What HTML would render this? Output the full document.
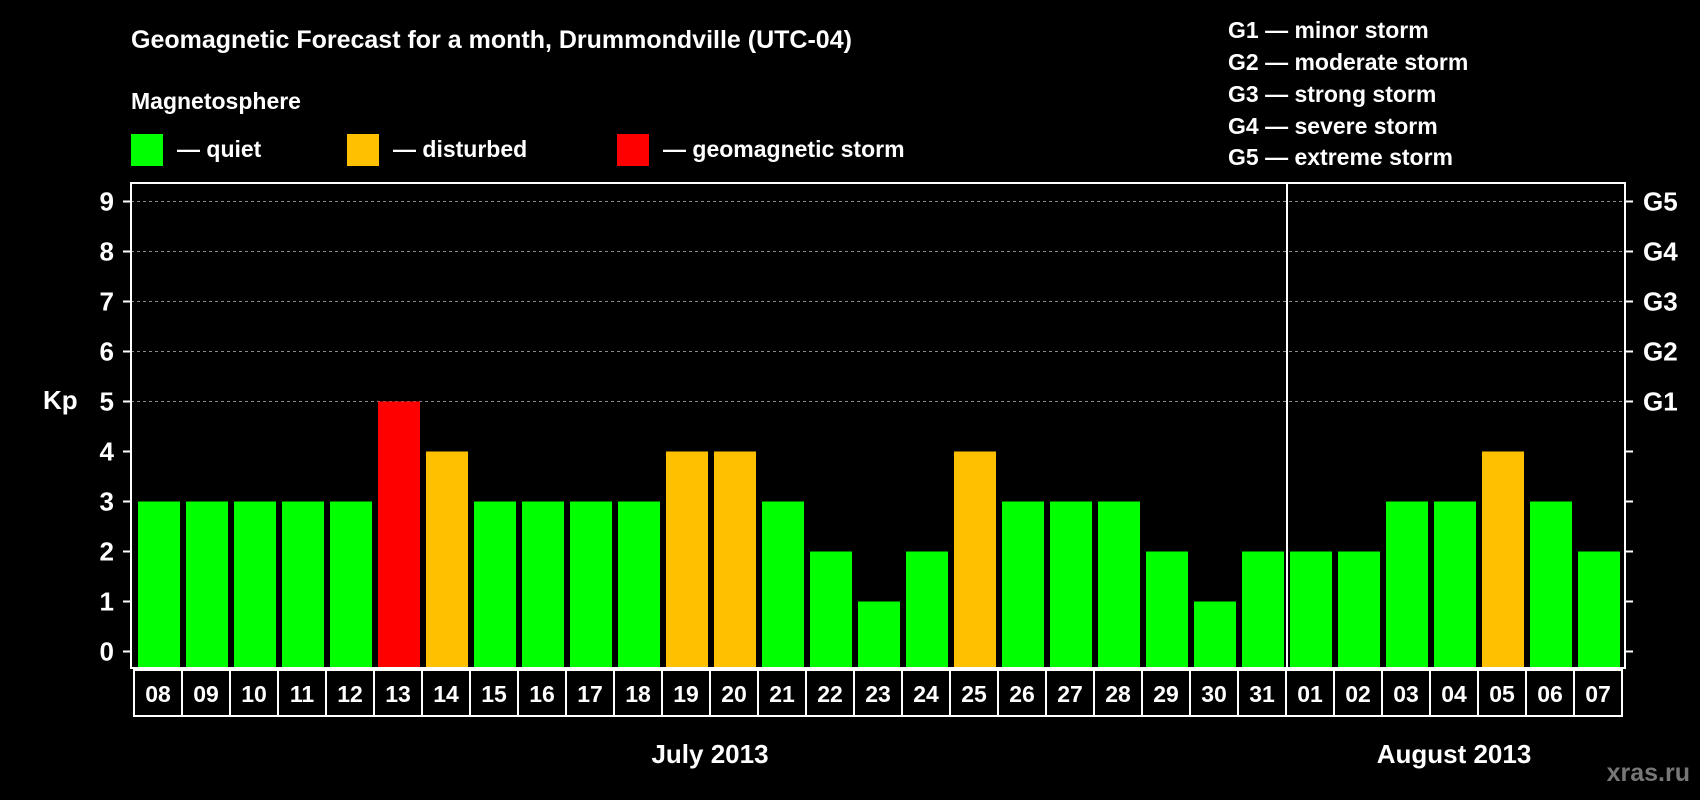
<!DOCTYPE html>
<html><head><meta charset="utf-8"><style>
html,body{margin:0;padding:0;background:#000;}
svg{display:block;font-family:"Liberation Sans",sans-serif;font-weight:bold;}
</style></head><body>
<svg id="chart" width="1700" height="800" viewBox="0 0 1700 800">
<rect width="1700" height="800" fill="#000"/>
<text x="131" y="48" fill="#fff" font-size="25">Geomagnetic Forecast for a month, Drummondville (UTC-04)</text>
<text x="131" y="109" fill="#fff" font-size="23">Magnetosphere</text>
<g><rect x="131" y="134" width="32" height="32" fill="#00ff00"/><text x="177" y="157" fill="#fff" font-size="23">— quiet</text></g>
<g><rect x="347" y="134" width="32" height="32" fill="#ffc000"/><text x="393" y="157" fill="#fff" font-size="23">— disturbed</text></g>
<g><rect x="617" y="134" width="32" height="32" fill="#ff0000"/><text x="663" y="157" fill="#fff" font-size="23">— geomagnetic storm</text></g>
<g font-size="23" fill="#fff">
<text x="1228" y="38">G1 — minor storm</text>
<text x="1228" y="70">G2 — moderate storm</text>
<text x="1228" y="102">G3 — strong storm</text>
<text x="1228" y="134">G4 — severe storm</text>
<text x="1228" y="165">G5 — extreme storm</text>
</g>
<text x="43" y="409" fill="#fff" font-size="26">Kp</text>
<g id="plot"></g>
<text x="710" y="763" fill="#fff" font-size="26" text-anchor="middle">July 2013</text>
<text x="1454" y="763" fill="#fff" font-size="26" text-anchor="middle">August 2013</text>
<text x="1690" y="781" fill="#777" font-size="25" text-anchor="end">xras.ru</text>
</svg>
<script>
const days = ["08","09","10","11","12","13","14","15","16","17","18","19","20","21","22","23","24","25","26","27","28","29","30","31","01","02","03","04","05","06","07"];
const kpValues = [3,3,3,3,3,5,4,3,3,3,3,4,4,3,2,1,2,4,3,3,3,2,1,2,2,2,3,3,4,3,2];
const yTicks = [0,1,2,3,4,5,6,7,8,9];
const gLabels = ["G1","G2","G3","G4","G5"];
const monthBreakIndex = 24;

const NS = "http://www.w3.org/2000/svg";
const plot = document.getElementById("plot");
const L = 131, R = 1625, T = 183, B = 668;
const y0 = 651.5, unit = 50;
const step = 48, barW = 42, x0 = 138;
function yScale(v){ return y0 - v*unit; }
function xScale(i){ return x0 + i*step; }
function mk(tag, attrs){ const e = document.createElementNS(NS, tag); for (const k in attrs) e.setAttribute(k, attrs[k]); plot.appendChild(e); return e; }

// gridlines for 5..9
yTicks.forEach(v => {
  if (v >= 5) {
    const g = mk("line", {x1:L, x2:R, y1:yScale(v), y2:yScale(v), stroke:"#888", "stroke-width":1, "stroke-dasharray":"3,3"});
    
    
  }
});

kpValues.forEach((v, i) => {
  const color = v >= 5 ? "#ff0000" : (v >= 4 ? "#ffc000" : "#00ff00");
  const top = yScale(v);
  const r = mk("rect", {x:xScale(i), y:top, width:barW, height:B - top, fill:color});
  
  
  const bx = xScale(i) - 4;
  const box = mk("rect", {x:bx, y:670, width:step, height:46, fill:"none", stroke:"#fff", "stroke-width":2});
  
  
  const t = mk("text", {x:bx + step/2, y:702, fill:"#fff", "font-size":23, "text-anchor":"middle"});
  t.textContent = days[i];
  
  
});

// frame
const frame = mk("rect", {x:L, y:T, width:R-L, height:B-T, fill:"none", stroke:"#fff", "stroke-width":2});


const divX = xScale(monthBreakIndex) - 3;
const div = mk("line", {x1:divX, x2:divX, y1:T, y2:B, stroke:"#fff", "stroke-width":2});



yTicks.forEach(v => {
  const y = yScale(v);
  const tl = mk("line", {x1:L-8, x2:L, y1:y, y2:y, stroke:"#fff", "stroke-width":2});
  
  
  const tr = mk("line", {x1:R, x2:R+8, y1:y, y2:y, stroke:"#fff", "stroke-width":2});
  
  
  const t = mk("text", {x:114, y:y+9, fill:"#fff", "font-size":26, "text-anchor":"end"});
  t.textContent = v;
  
  
});
gLabels.forEach((g, i) => {
  const t = mk("text", {x:1643, y:yScale(5+i)+9, fill:"#fff", "font-size":26});
  t.textContent = g;
  
  
});
</script>
</body></html>
